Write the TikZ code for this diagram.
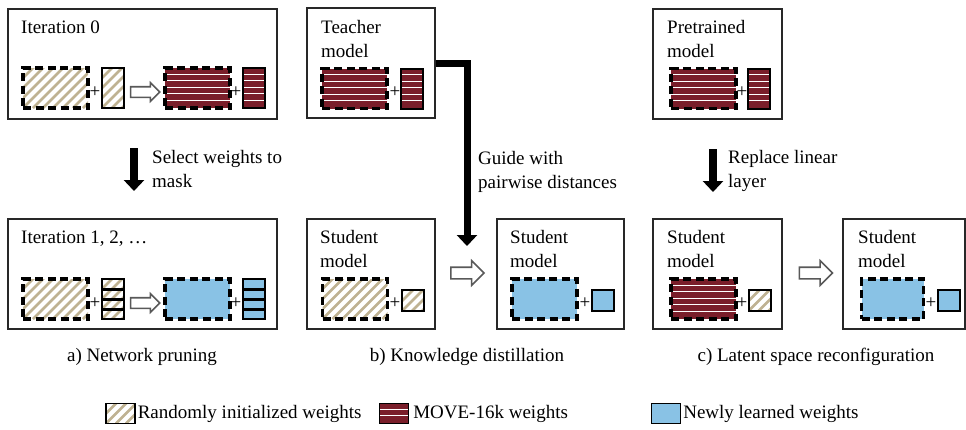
\documentclass[tikz,border=0pt]{standalone}
\usepackage{fontspec}
\setmainfont{Liberation Serif}
\usetikzlibrary{arrows.meta,shapes.arrows,positioning}
\definecolor{hatchtan}{RGB}{191,178,146}
\definecolor{movered}{RGB}{122,30,42}
\definecolor{newblue}{RGB}{137,194,229}
\definecolor{framegray}{RGB}{40,40,40}
% fills drawn inside the weight blocks
\newcommand{\hatchfill}{\foreach \s in {-50,-40,...,80}
  \draw[solid, hatchtan, line width=2.6pt] ([xshift=\s pt]path picture bounding box.south west) -- ++(60pt,60pt);}
\newcommand{\stripefill}{\foreach \s in {8,14.5,...,35}
  \draw[solid, white, line width=1pt] ([yshift=\s pt]path picture bounding box.south west)
    -- ([yshift=\s pt]path picture bounding box.south east);}
\newcommand{\rowbarfill}{\foreach \k in {1,2,3}
  \draw[solid, black, line width=3pt] ([yshift=\k*10pt]path picture bounding box.south west)
    -- ([yshift=\k*10pt]path picture bounding box.south east);}
\begin{document}
\begin{tikzpicture}[x=1pt, y=-1pt,
  every node/.style={font=\fontsize{19}{23.5}\selectfont},
  panel/.style={draw=framegray, line width=1.2pt, minimum height=110pt, inner sep=0pt},
  lbl/.style={anchor=base west, align=left, inner sep=0pt},
  captxt/.style={anchor=base, inner sep=0pt},
  legtxt/.style={inner sep=0pt},
  plus/.style={inner sep=0pt},
  bigw/.style={rectangle, draw=black, line width=3.5pt, dash pattern=on 8pt off 4.5pt,
    inner sep=0pt, minimum width=65pt, minimum height=40pt},
  smallw/.style={rectangle, draw=black, line width=2pt, inner sep=0pt,
    minimum width=22pt, minimum height=40pt},
  sqw/.style={smallw, minimum height=21pt},
  legsq/.style={rectangle, draw=black, line width=1.2pt, inner sep=0pt,
    minimum width=29pt, minimum height=20pt},
  rnd/.style={path picture={\hatchfill}},
  rndbars/.style={path picture={\hatchfill\rowbarfill}},
  movew/.style={fill=movered, path picture={\stripefill}},
  neww/.style={fill=newblue},
  newbars/.style={fill=newblue, path picture={\rowbarfill}},
  hollowa/.style={single arrow, draw=black!65, fill=white, line width=1.6pt, inner sep=0pt,
    text height=4.5pt, text depth=4.5pt, minimum height=29pt, single arrow head extend=4pt},
  hollowb/.style={hollowa, text height=5pt, text depth=5pt, minimum height=33pt,
    single arrow head extend=6.5pt},
  bigarrow/.style={line width=8pt, line join=miter, -{Triangle[width=20pt,length=11pt]}}]

\useasboundingbox (0,0) rectangle (966,429);

% a) network pruning
\node[panel, minimum width=269pt] (iterZero) at (142.5,64) {};
\node[lbl] (iterZeroTxt) at (21,33) {Iteration 0};
\node[bigw, rnd] (aRndBig) at (55.5,88) {};
\node[plus] (aPlusA) at (95,92) {+};
\node[smallw, rnd] (aRndSmall) at (113,88) {};
\node[hollowa] (aStep) at (142.5,92) {};
\node[bigw, movew] (aMoveBig) at (197.5,88) {};
\node[plus] (aPlusB) at (236,92) {+};
\node[smallw, movew] (aMoveSmall) at (253.5,88) {};

\coordinate (selTop) at (134,148);
\coordinate (selTip) at (134,191);
\draw[bigarrow] (selTop) -- (selTip);
\node[lbl] (selTxt) at (152,187) {Select weights to\\mask};

\node[panel, minimum width=269pt] (iterN) at (142.5,274) {};
\node[lbl] (iterNTxt) at (21,243) {Iteration 1, 2, …};
\node[bigw, rnd] (nRndBig) at (55.5,299) {};
\node[plus] (nPlusA) at (95,303) {+};
\node[smallw, rndbars] (nRndSmall) at (113,299) {};
\node[hollowa] (nStep) at (142.5,303) {};
\node[bigw, neww] (nNewBig) at (197.5,299) {};
\node[plus] (nPlusB) at (236,303) {+};
\node[smallw, newbars] (nNewSmall) at (253.5,299) {};
\node[captxt] (capA) at (142,361) {a) Network pruning};

% b) knowledge distillation
\node[panel, minimum width=128pt] (teacher) at (371,63) {};
\node[lbl] (teacherTxt) at (321,57) {Teacher\\model};
\node[bigw, movew] (tMoveBig) at (354.5,88.5) {};
\node[plus] (tPlus) at (395,92) {+};
\node[smallw, movew] (tMoveSmall) at (412,88.5) {};

\coordinate (guideTip) at (467,246);
\draw[bigarrow, line width=7pt] (teacher.east) -| (guideTip);
\node[lbl] (guideTxt) at (478,188) {Guide with\\pairwise distances};

\node[panel, minimum width=128pt] (studentA) at (371,274) {};
\node[lbl] (studentATxt) at (320,267) {Student\\model};
\node[bigw, rnd] (sARndBig) at (355,299) {};
\node[plus] (sAPlus) at (395,303) {+};
\node[sqw, rnd] (sARndSq) at (413,300.5) {};
\node[hollowb] (sStep) at (464.5,273) {};
\node[panel, minimum width=127pt] (studentB) at (560.5,274) {};
\node[lbl] (studentBTxt) at (510,267) {Student\\model};
\node[bigw, neww] (sBNewBig) at (544.5,299) {};
\node[plus] (sBPlus) at (585,303) {+};
\node[sqw, neww] (sBNewSq) at (602.5,300.5) {};
\node[captxt] (capB) at (467,361) {b) Knowledge distillation};

% c) latent space reconfiguration
\node[panel, minimum width=129pt] (pretrained) at (717.5,64) {};
\node[lbl] (pretrainedTxt) at (667,57) {Pretrained\\model};
\node[bigw, movew] (pMoveBig) at (703.5,88.5) {};
\node[plus] (pPlus) at (742,92) {+};
\node[smallw, movew] (pMoveSmall) at (759,88.5) {};

\coordinate (replTop) at (713,149);
\coordinate (replTip) at (713,192);
\draw[bigarrow] (replTop) -- (replTip);
\node[lbl] (replTxt) at (728,187) {Replace linear\\layer};

\node[panel, minimum width=129pt] (studentC) at (717.5,274) {};
\node[lbl] (studentCTxt) at (667,267) {Student\\model};
\node[bigw, movew] (sCMoveBig) at (703.5,299) {};
\node[plus] (sCPlus) at (742,303) {+};
\node[sqw, rnd] (sCRndSq) at (759.5,300.5) {};
\node[hollowb] (cStep) at (813,273) {};
\node[panel, minimum width=122pt] (studentD) at (904,274) {};
\node[lbl] (studentDTxt) at (858,267) {Student\\model};
\node[bigw, neww, minimum width=62pt] (sDNewBig) at (892.5,299) {};
\node[plus] (sDPlus) at (931,303) {+};
\node[sqw, neww] (sDNewSq) at (949,300) {};
\node[captxt] (capC) at (816,361) {c) Latent space reconfiguration};

% legend
\node[legsq, rnd] (legRnd) at (120.5,413.5) {};
\node[legtxt, right=2pt of legRnd] (legRndTxt) {Randomly initialized weights};
\node[legsq, movew] (legMove) at (394,413.5) {};
\node[legtxt, right=4pt of legMove] (legMoveTxt) {MOVE-16k weights};
\node[legsq, neww] (legNew) at (666,413.5) {};
\node[legtxt, right=2pt of legNew] (legNewTxt) {Newly learned weights};
\end{tikzpicture}
\end{document}
